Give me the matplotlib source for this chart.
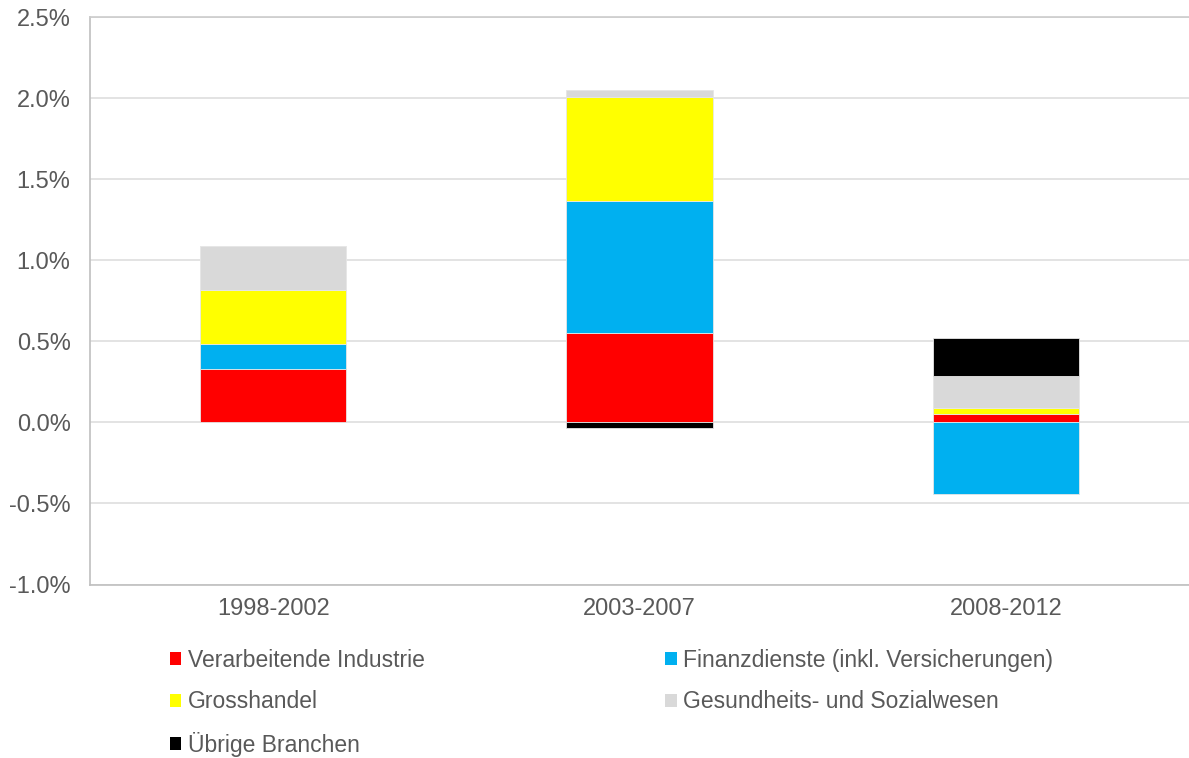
import matplotlib
matplotlib.use("Agg")
import matplotlib.pyplot as plt
import numpy as np
from matplotlib.patches import Patch

plt.rcParams['font.family'] = ['Liberation Sans', 'DejaVu Sans']

categories = ["1998-2002", "2003-2007", "2008-2012"]
series_names = ["Verarbeitende Industrie", "Finanzdienste (inkl. Versicherungen)",
                "Grosshandel", "Gesundheits- und Sozialwesen", "Übrige Branchen"]
verarbeitende = [0.328, 0.554, 0.051]
finanz = [0.156, 0.814, -0.439]
grosshandel = [0.334, 0.641, 0.041]
gesundheit = [0.274, 0.045, 0.198]
uebrige = [0.0, -0.033, 0.229]
colors = ["#FF0000", "#00B0F0", "#FFFF00", "#D9D9D9", "#000000"]
yticks = [-1.0, -0.5, 0.0, 0.5, 1.0, 1.5, 2.0, 2.5]

all_series = [verarbeitende, finanz, grosshandel, gesundheit, uebrige]

fig = plt.figure(figsize=(11.89, 7.58), dpi=100)
ax = fig.add_axes([90/1189, 1-584.5/758, 1-90/1189, (584.5-17.5)/758])

x = np.arange(len(categories))
pos_b = np.zeros(len(categories))
neg_b = np.zeros(len(categories))
handles = []
for vals, col, name in zip(all_series, colors, series_names):
    v = np.array(vals)
    bottom = np.where(v >= 0, pos_b, neg_b)
    ax.bar(x, v, width=0.40, bottom=bottom, color=col, edgecolor='#e6e6e6',
           linewidth=0.6, zorder=3)
    pos_b = pos_b + np.where(v >= 0, v, 0)
    neg_b = neg_b + np.where(v < 0, v, 0)
    handles.append(Patch(facecolor=col, edgecolor='none', label=name))

ax.set_xlim(-0.5, 2.5)
ax.set_ylim(-1.0, 2.5)
ax.set_yticks(yticks)
ax.set_yticklabels([f"{t:.1f}%" for t in yticks])
ax.set_xticks(x)
ax.set_xticklabels(categories)
ax.yaxis.grid(True, color='#e0e0e0', linewidth=1.3, zorder=0)
ax.set_axisbelow(True)
ax.tick_params(axis='both', length=0, labelsize=17, colors='#595959')
ax.tick_params(axis='y', pad=14)
ax.tick_params(axis='x', pad=10)
ax.spines['right'].set_visible(False)
ax.spines['top'].set_color('#cccccc')
ax.spines['bottom'].set_color('#bfbfbf')
ax.spines['left'].set_color('#bfbfbf')
for s in ['top', 'bottom', 'left']:
    ax.spines[s].set_linewidth(1.2)

order = [0, 2, 4, 1, 3]
leg = fig.legend([handles[i] for i in order], [series_names[i] for i in order],
                 ncol=2, loc='upper left', bbox_to_anchor=(170/1189, 1-649/758),
                 frameon=False, fontsize=16.5, handlelength=0.5, handleheight=0.5,
                 handletextpad=0.28, columnspacing=10.5, labelspacing=0.8,
                 borderpad=0, borderaxespad=0)
for t in leg.get_texts():
    t.set_color('#595959')

fig.savefig("out.png", dpi=100)
